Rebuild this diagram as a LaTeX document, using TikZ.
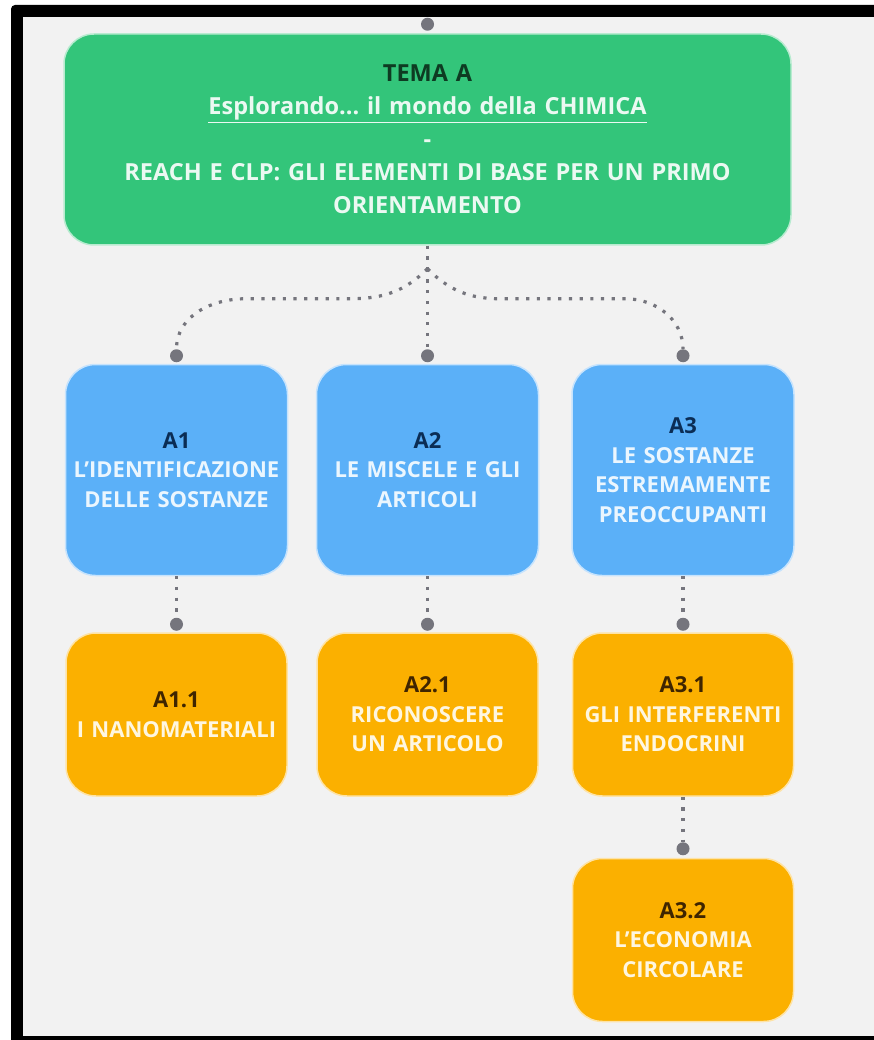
\documentclass[tikz,border=0pt]{standalone}
\usepackage{fontspec}
\setmainfont{Open Sans}
\usetikzlibrary{positioning}
\frenchspacing

\definecolor{themegreen}{HTML}{33C57A}
\definecolor{topicblue}{HTML}{5BB0F8}
\definecolor{subtopicorange}{HTML}{FBB000}
\definecolor{linkgray}{HTML}{75757D}
\definecolor{paper}{HTML}{F2F2F2}
\definecolor{greenink}{HTML}{0E3B22}
\definecolor{blueink}{HTML}{0B2D55}
\definecolor{orangeink}{HTML}{3F2500}

\begin{document}
\begin{tikzpicture}[x=1pt, y=1pt,
    box/.style={rectangle, rounded corners=30pt, inner sep=0pt, align=center, line width=1.5pt},
    theme/.style={box, fill=themegreen, draw=themegreen!35!white, minimum width=727pt, minimum height=211pt, text width=700pt, text=white!90!themegreen, font=\fontsize{23.5}{33}\selectfont\bfseries},
    topic/.style={box, fill=topicblue, draw=topicblue!35!white, minimum width=222pt, minimum height=211pt, text width=214pt, text=white!88!topicblue, font=\fontsize{22}{29.5}\selectfont\bfseries},
    subtopic/.style={box, fill=subtopicorange, draw=subtopicorange!35!white, minimum width=221pt, minimum height=163pt, text width=214pt, text=white!88!subtopicorange, font=\fontsize{22}{29.5}\selectfont\bfseries},
    joint/.style={circle, fill=linkgray, minimum size=13pt, inner sep=0pt},
    link/.style={draw=linkgray, line width=3.2pt, dash pattern=on 3.2pt off 7.5pt}
]
\useasboundingbox (0,0) rectangle (874,-1040);
% frame
\fill[white] (0,0) rectangle (874,-1040);
\fill[black, rounded corners=4pt] (11,-5) rectangle (900,-1060);
\fill[paper] (23,-17) rectangle (900,-1036);

% boxes
\node[theme] (TemaA) at (427.5,-139.5) {{\color{greenink}TEMA A}\\\underline{Esplorando... il mondo della CHIMICA}\\-\\REACH E CLP: GLI ELEMENTI DI BASE PER UN PRIMO\\ORIENTAMENTO};
\node[topic, below=118pt of TemaA] (A2) {{\color{blueink}A2}\\LE MISCELE E GLI\\ARTICOLI};
\node[topic, left=27.5pt of A2] (A1) {{\color{blueink}A1}\\L'IDENTIFICAZIONE\\DELLE SOSTANZE};
\node[topic, right=32pt of A2] (A3) {{\color{blueink}A3}\\LE SOSTANZE\\ESTREMAMENTE\\PREOCCUPANTI};
\node[subtopic, below=56pt of A1] (A11) {{\color{orangeink}A1.1}\\I NANOMATERIALI};
\node[subtopic, below=56pt of A2] (A21) {{\color{orangeink}A2.1}\\RICONOSCERE\\UN ARTICOLO};
\node[subtopic, below=56pt of A3] (A31) {{\color{orangeink}A3.1}\\GLI INTERFERENTI\\ENDOCRINI};
\node[subtopic, below=61pt of A31] (A32) {{\color{orangeink}A3.2}\\L'ECONOMIA\\CIRCOLARE};

% joints
\node[joint] (jTop) at ([yshift=9pt]TemaA.north) {};
\node[joint] (jA1) at ([yshift=8pt]A1.north) {};
\node[joint] (jA2) at ([yshift=8pt]A2.north) {};
\node[joint] (jA3) at ([yshift=8pt]A3.north) {};
\node[joint] (jA11) at ([yshift=8pt]A11.north) {};
\node[joint] (jA21) at ([yshift=8pt]A21.north) {};
\node[joint] (jA31) at ([yshift=8pt]A31.north) {};
\node[joint] (jA32) at ([yshift=9pt]A32.north) {};

\coordinate (J) at ([yshift=-23pt]TemaA.south);
\coordinate (JLa) at ([shift={(-77pt,-30pt)}]J);
\coordinate (JLb) at ([shift={(-182pt,-30pt)}]J);
\coordinate (JRa) at ([shift={(73pt,-30pt)}]J);
\coordinate (JRb) at ([shift={(198pt,-30pt)}]J);

% links
\draw[link] (TemaA.south) -- (J);
\draw[link] (J) -- (jA2);
\draw[link] (J) to[out=225, in=0] (JLa) -- (JLb) to[out=180, in=90] (jA1);
\draw[link] (J) to[out=-45, in=180] (JRa) -- (JRb) to[out=0, in=90] (jA3);
\draw[link] (A1.south) -- (jA11);
\draw[link] (A2.south) -- (jA21);
\draw[link] (A3.south) -- (jA31);
\draw[link] (A31.south) -- (jA32);
\end{tikzpicture}
\end{document}
